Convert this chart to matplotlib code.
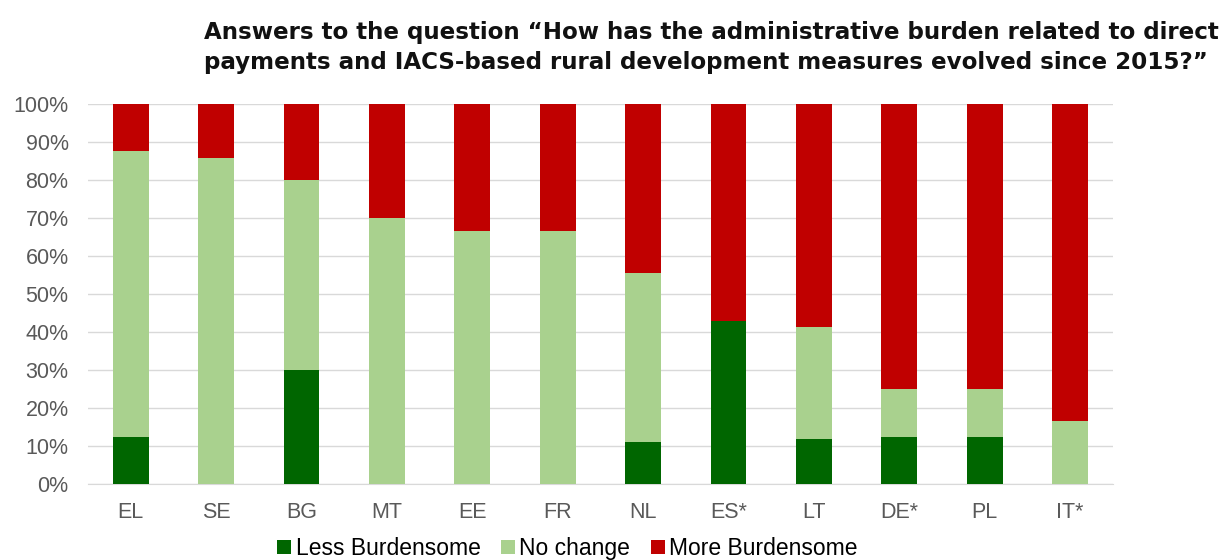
import matplotlib.pyplot as plt
import numpy as np
from matplotlib.ticker import PercentFormatter

countries = ["EL", "SE", "BG", "MT", "EE", "FR", "NL", "ES*", "LT", "DE*", "PL", "IT*"]
less_burdensome = [12.5, 0, 30.0, 0, 0, 0, 11.1, 42.9, 11.8, 12.5, 12.5, 0]
no_change = [75.0, 85.7, 50.0, 70.0, 66.7, 66.7, 44.4, 0, 29.4, 12.5, 12.5, 16.7]
more_burdensome = [12.5, 14.3, 20.0, 30.0, 33.3, 33.3, 44.5, 57.1, 58.8, 75.0, 75.0, 83.3]
series_names = ["Less Burdensome", "No change", "More Burdensome"]
colors = ["#006600", "#a9d18e", "#c00000"]

title = ("Answers to the question \u201cHow has the administrative burden related to direct\n"
         "payments and IACS-based rural development measures evolved since 2015?\u201d")

fig = plt.figure(figsize=(12.31, 5.6), dpi=100)
ax = fig.add_axes([0.0715, 0.1357, 0.8325, 0.6786])

x = np.arange(len(countries))
width = 0.42
bottom = np.zeros(len(countries))
for values, name, color in zip([less_burdensome, no_change, more_burdensome], series_names, colors):
    ax.bar(x, values, width, bottom=bottom, color=color, label=name, zorder=3)
    bottom += np.array(values)

ax.set_xlim(-0.5, len(countries) - 0.5)
ax.set_ylim(0, 100)
ax.set_yticks(np.arange(0, 101, 10))
ax.yaxis.set_major_formatter(PercentFormatter(decimals=0))
ax.set_xticks(x)
ax.set_xticklabels(countries)
ax.grid(axis="y", color="#d9d9d9", linewidth=1, zorder=0)
for side in ["top", "right", "left"]:
    ax.spines[side].set_visible(False)
ax.spines["bottom"].set_color("#d9d9d9")
ax.tick_params(axis="both", length=0, labelsize=15.5, labelcolor="#595959")
ax.tick_params(axis="x", pad=13)
ax.tick_params(axis="y", pad=14)
for lbl in ax.get_xticklabels() + ax.get_yticklabels():
    lbl.set_fontfamily("Liberation Sans")

fig.text(0.166, 0.962, title, ha="left", va="top", fontsize=16.6, fontweight="bold",
         family="DejaVu Sans", color="#111111", linespacing=1.35)

fig.legend(loc="center", bbox_to_anchor=(0.461, 0.02), ncol=3, frameon=False,
           prop={"family": "Liberation Sans", "size": 16.5}, handlelength=0.6, handleheight=0.6,
           handletextpad=0.2, columnspacing=0.9, borderaxespad=0, borderpad=0)

fig.savefig("out.png", dpi=100)
